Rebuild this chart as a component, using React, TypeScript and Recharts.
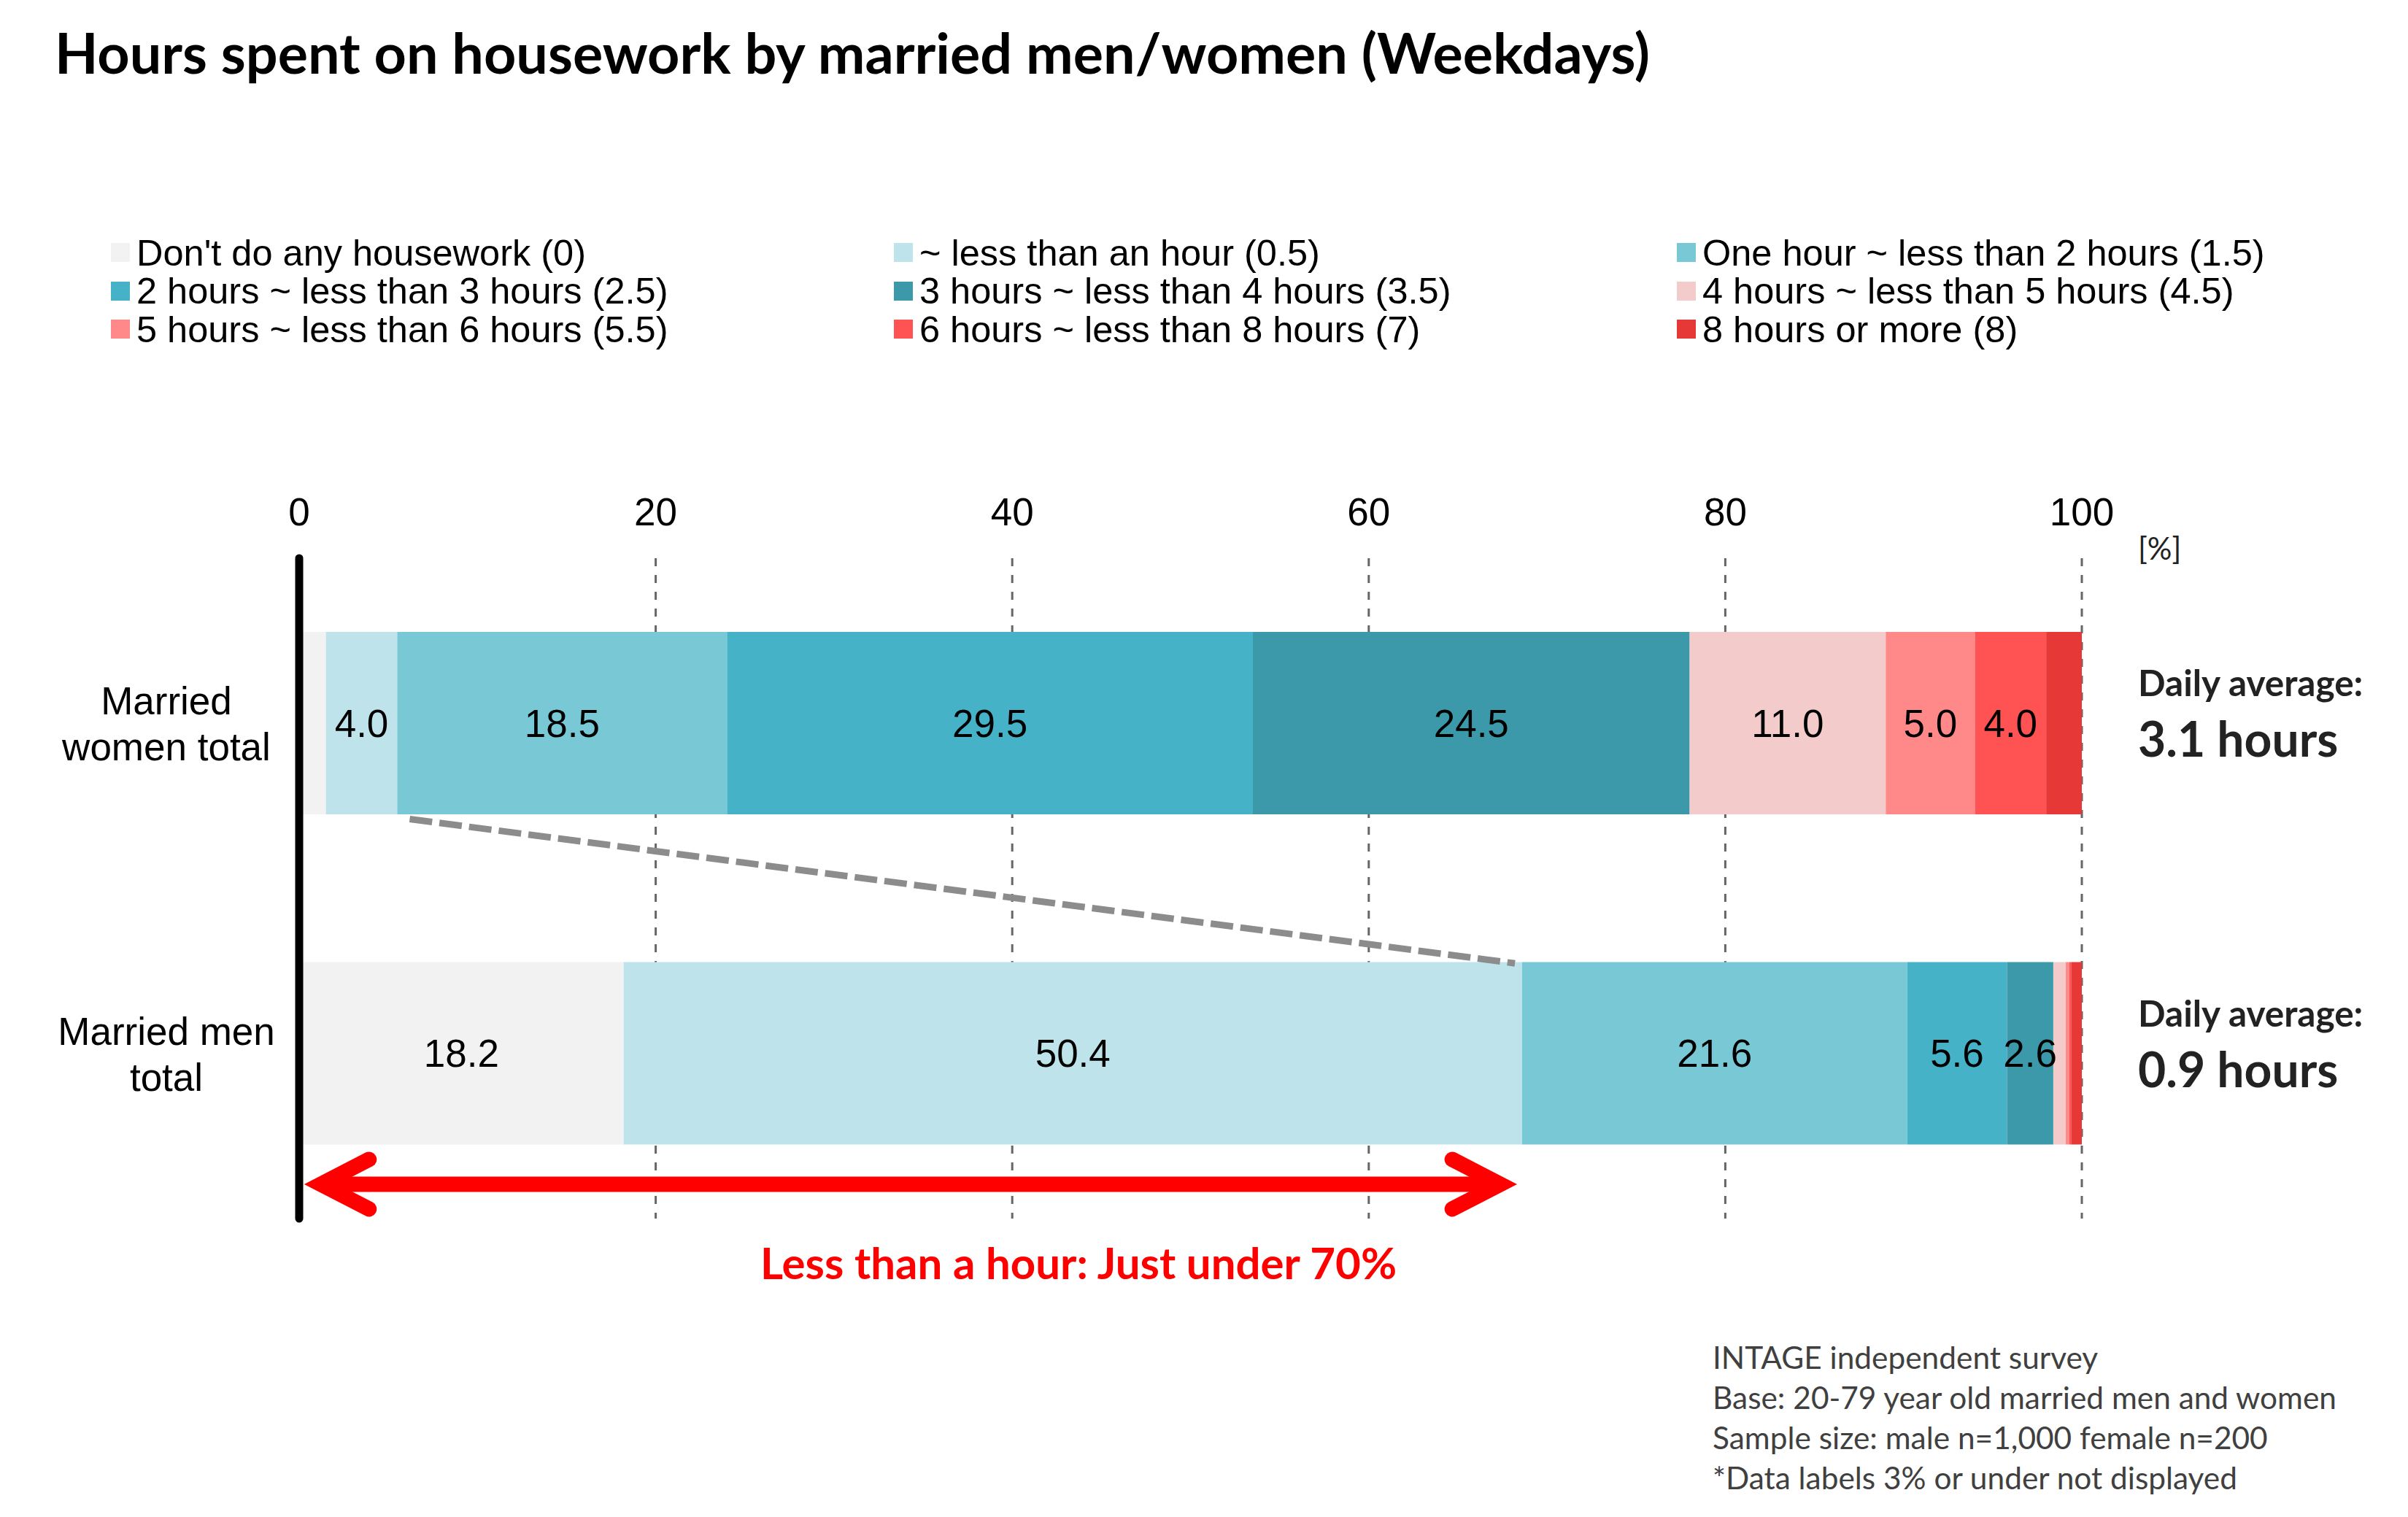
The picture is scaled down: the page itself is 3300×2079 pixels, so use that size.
import React from "react";
import {
  Bar,
  BarChart,
  CartesianGrid,
  LabelList,
  ReferenceLine,
  XAxis,
  YAxis,
} from "recharts";

// categories (top to bottom)
const categories = ["Married women total", "Married men total"];
const categoryLines = [
  ["Married", "women total"],
  ["Married men", "total"],
];
const dailyAverage = ["3.1 hours", "0.9 hours"];

// answer buckets
const seriesNames = [
  "Don't do any housework (0)",
  "~ less than an hour (0.5)",
  "One hour ~ less than 2 hours (1.5)",
  "2 hours ~ less than 3 hours (2.5)",
  "3 hours ~ less than 4 hours (3.5)",
  "4 hours ~ less than 5 hours (4.5)",
  "5 hours ~ less than 6 hours (5.5)",
  "6 hours ~ less than 8 hours (7)",
  "8 hours or more (8)",
];
const seriesColors = [
  "#F2F2F2",
  "#BEE3EB",
  "#78C8D6",
  "#45B2C7",
  "#3B99AA",
  "#F3CBCB",
  "#FF8989",
  "#FF5252",
  "#E73838",
];

// shares in %
const womenShares = [1.5, 4.0, 18.5, 29.5, 24.5, 11.0, 5.0, 4.0, 2.0];
const menShares = [18.2, 50.4, 21.6, 5.6, 2.6, 0.7, 0.2, 0.1, 0.6];

const xTicks = [0, 20, 40, 60, 80, 100];

// annotation anchors (x in %, y as fraction of plot height from the top)
const zoomLine = [
  { x: 6.2, y: 0.395 },
  { x: 68.2, y: 0.6135 },
];
const arrowLine = [
  { x: 0.4, y: 0.948 },
  { x: 68.2, y: 0.948 },
];

const footnotes = [
  "INTAGE independent survey",
  "Base: 20-79 year old married men and women",
  "Sample size: male n=1,000 female n=200",
  "*Data labels 3% or under not displayed",
];

const shares = [womenShares, menShares];
const data = categories.map((name, i) => {
  const row: Record<string, string | number> = { name };
  seriesNames.forEach((_, j) => {
    row[`s${j}`] = shares[i][j];
  });
  return row;
});

const ARIAL = "'Liberation Sans', Arial, sans-serif";
const CALIBRI = "Lato, 'Open Sans', sans-serif";

const LeftTick = (props: any) => {
  const { x, y, payload } = props;
  const idx = categories.indexOf(payload.value);
  const lines = categoryLines[idx] || [payload.value];
  return (
    <g>
      <text x={x - 182} y={y - 12} textAnchor="middle" fontSize={53} fontFamily={ARIAL} fill="#000">
        {lines[0]}
      </text>
      <text x={x - 182} y={y + 51} textAnchor="middle" fontSize={53} fontFamily={ARIAL} fill="#000">
        {lines[1]}
      </text>
    </g>
  );
};

const RightTick = (props: any) => {
  const { x, y, payload } = props;
  const idx = categories.indexOf(payload.value);
  return (
    <g>
      <text x={x + 77} y={y - 37} fontSize={49.5} fontWeight={700} fontFamily={CALIBRI} fill="#222">
        Daily average:
      </text>
      <text x={x + 77} y={y + 46} fontSize={66} fontWeight={700} fontFamily={CALIBRI} fill="#222">
        {dailyAverage[idx]}
      </text>
    </g>
  );
};

const DoubleArrow = (props: any) => {
  const { x1, y1, x2 } = props;
  const y = y1;
  const head = 20;
  const dx = 66;
  const dy = 34;
  const lx = Math.min(x1, x2) + head;
  const rx = Math.max(x1, x2) - head;
  return (
    <g>
      <line x1={lx} y1={y} x2={rx} y2={y} stroke="#FF0000" strokeWidth={21} />
      <path
        d={`M${lx + dx},${y - dy} L${lx},${y} L${lx + dx},${y + dy}`}
        fill="none"
        stroke="#FF0000"
        strokeWidth={21}
        strokeLinecap="round"
        strokeLinejoin="miter"
      />
      <path
        d={`M${rx - dx},${y - dy} L${rx},${y} L${rx - dx},${y + dy}`}
        fill="none"
        stroke="#FF0000"
        strokeWidth={21}
        strokeLinecap="round"
        strokeLinejoin="miter"
      />
    </g>
  );
};

const fmt = (v: any) => (Number(v) > 2.5 ? Number(v).toFixed(1) : "");

export default function App() {
  return (
    <div
      style={{
        position: "absolute",
        left: 0,
        top: 0,
        width: 3300,
        height: 2079,
        background: "#fff",
        overflow: "hidden",
      }}
    >
      <div
        style={{
          position: "absolute",
          left: 75,
          top: 33,
          fontFamily: CALIBRI,
          fontWeight: 700,
          fontSize: 77.3,
          lineHeight: 1,
          whiteSpace: "nowrap",
          color: "#000",
        }}
      >
        Hours spent on housework by married men/women (Weekdays)
      </div>

      {/* legend */}
      <div style={{ position: "absolute", left: 152, top: 320 }}>
        {seriesNames.map((name, i) => (
          <div
            key={name}
            style={{
              position: "absolute",
              left: (i % 3) * 1073,
              top: Math.floor(i / 3) * 52.5,
              height: 52,
              display: "flex",
              alignItems: "center",
              whiteSpace: "nowrap",
              fontFamily: ARIAL,
              fontSize: 50.5,
              color: "#000",
            }}
          >
            <span
              style={{
                display: "inline-block",
                width: 26,
                height: 26,
                background: seriesColors[i],
                marginRight: 9,
              }}
            />
            {name}
          </div>
        ))}
      </div>

      <div
        style={{
          position: "absolute",
          left: 2930,
          top: 730,
          fontFamily: CALIBRI,
          fontSize: 42,
          lineHeight: 1,
          color: "#222",
        }}
      >
        [%]
      </div>

      <div style={{ position: "absolute", left: 0, top: 0 }}>
        <BarChart
          layout="vertical"
          width={3300}
          height={2079}
          data={data}
          margin={{ top: 645, right: 47, bottom: 409, left: 50 }}
        >
          <CartesianGrid horizontal={false} stroke="#666" strokeWidth={3} strokeDasharray="11 12" />
          <XAxis
            type="number"
            orientation="top"
            domain={[0, 100]}
            ticks={xTicks}
            height={120}
            axisLine={false}
            tickLine={false}
            tickSize={0}
            tickMargin={45}
            interval={0}
            tick={{ fontSize: 53, fill: "#000", fontFamily: ARIAL }}
          />
          <YAxis
            type="category"
            dataKey="name"
            width={360}
            tickLine={false}
            tickSize={0}
            tickMargin={0}
            axisLine={{ stroke: "#000", strokeWidth: 11, strokeLinecap: "round" }}
            tick={<LeftTick />}
          />
          <YAxis
            yAxisId="right"
            type="category"
            dataKey="name"
            orientation="right"
            width={400}
            tickLine={false}
            axisLine={false}
            tickSize={0}
            tickMargin={0}
            tick={<RightTick />}
          />
          <YAxis yAxisId="num" type="number" domain={[0, 1]} allowDataOverflow hide />
          {seriesNames.map((name, j) => (
            <Bar
              key={name}
              dataKey={`s${j}`}
              name={name}
              stackId="a"
              fill={seriesColors[j]}
              barSize={250}
              isAnimationActive={false}
            >
              <LabelList
                dataKey={`s${j}`}
                position="center"
                formatter={fmt}
                fill="#000"
                fontSize={53}
                fontFamily={ARIAL}
              />
            </Bar>
          ))}
          <ReferenceLine
            yAxisId="num"
            segment={zoomLine}
            stroke="#8C8C8C"
            strokeWidth={9}
            strokeDasharray="31 10"
            ifOverflow="visible"
          />
          <ReferenceLine
            yAxisId="num"
            segment={arrowLine}
            stroke="#FF0000"
            ifOverflow="visible"
            shape={DoubleArrow}
          />
        </BarChart>
      </div>

      <div
        style={{
          position: "absolute",
          left: 1478,
          top: 1730,
          transform: "translate(-50%, -50%)",
          fontFamily: CALIBRI,
          fontWeight: 700,
          fontSize: 60,
          lineHeight: 1,
          color: "#FF0000",
          whiteSpace: "nowrap",
        }}
      >
        Less than a hour: Just under 70%
      </div>

      <div
        style={{
          position: "absolute",
          left: 2347,
          top: 1832,
          fontFamily: CALIBRI,
          fontSize: 42.4,
          lineHeight: "55px",
          color: "#404040",
          whiteSpace: "nowrap",
        }}
      >
        {footnotes.map((t) => (
          <div key={t}>{t}</div>
        ))}
      </div>
    </div>
  );
}
